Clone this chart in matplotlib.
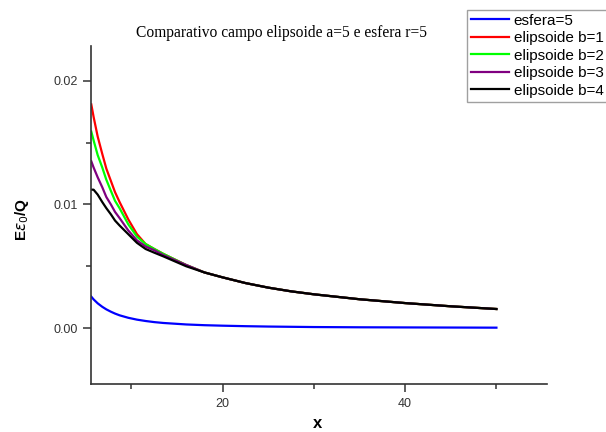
import matplotlib
matplotlib.use('Agg')
import matplotlib.pyplot as plt
from matplotlib.ticker import MultipleLocator

# valores
x = [5.6, 5.85, 6.3, 6.8, 7.25, 7.75, 8.2, 8.7, 9.65, 10.6, 11.55, 12.5, 13.5,
     16, 18, 20, 22.5, 25, 27.5, 30, 35, 40, 45, 50]

esfera = [0.00254, 0.00232, 0.00200, 0.00172, 0.00151, 0.00132, 0.00117, 0.00103,
          0.00083, 0.00068, 0.00057, 0.00048, 0.00041, 0.00029, 0.00023, 0.00019,
          0.00015, 0.00012, 0.00010, 0.00008, 0.00006, 0.00005, 0.00004, 0.00003]

tail = [0.0051, 0.0045, 0.0041, 0.00364, 0.00327, 0.00297, 0.00273, 0.00233,
        0.00202, 0.00176, 0.00154]

elip_b1 = [0.0181, 0.0171, 0.0155, 0.0141, 0.0129, 0.0119, 0.0110, 0.0102,
           0.0088, 0.0076, 0.0068, 0.0064, 0.0060] + tail
elip_b2 = [0.0159, 0.0152, 0.0140, 0.0130, 0.0120, 0.0111, 0.0103, 0.0097,
           0.0084, 0.0074, 0.0068, 0.0064, 0.0060] + tail
elip_b3 = [0.0135, 0.0130, 0.0122, 0.0114, 0.0106, 0.0100, 0.0094, 0.0089,
           0.0079, 0.0071, 0.0066, 0.0063, 0.0059] + tail
elip_b4 = [0.0112, 0.0112, 0.0108, 0.0102, 0.0097, 0.0092, 0.0087, 0.0083,
           0.0076, 0.0069, 0.0064, 0.0061, 0.0058, 0.0050] + tail[1:]

series = [
    ('esfera=5', esfera, '#0000ff'),
    ('elipsoide b=1', elip_b1, '#ff0000'),
    ('elipsoide b=2', elip_b2, '#00ff00'),
    ('elipsoide b=3', elip_b3, '#800080'),
    ('elipsoide b=4', elip_b4, '#000000'),
]

plt.rcParams['font.family'] = ['Liberation Sans', 'DejaVu Sans']

W, H = 606, 432
fig = plt.figure(figsize=(W / 100, H / 100), dpi=100)
ax = fig.add_axes([91.3 / W, 48 / H, (546.6 - 91.3) / W, (384 - 46) / H])

for label, y, c in series:
    ax.plot(x, y, color=c, lw=1.6, label=label)

ax.set_xlim(5.6, 55.5)
ax.set_ylim(-0.00453, 0.02283)

ax.xaxis.set_major_locator(MultipleLocator(20))
ax.xaxis.set_minor_locator(MultipleLocator(10))
ax.yaxis.set_major_locator(MultipleLocator(0.01))
ax.yaxis.set_minor_locator(MultipleLocator(0.005))
ax.yaxis.set_major_formatter(plt.FuncFormatter(lambda v, p: f'{v:.2f}'))

ax.spines['top'].set_visible(False)
ax.spines['right'].set_visible(False)
for s in ('left', 'bottom'):
    ax.spines[s].set_linewidth(1.2)
    ax.spines[s].set_color('#333333')
ax.tick_params(which='major', direction='out', length=6, width=1.1,
               color='#333333', labelsize=9, labelcolor='#333333', pad=4)
ax.tick_params(which='minor', direction='out', length=3.5, width=1.1,
               color='#333333')

fig.text(318 / W, 1 - 424 / H, 'x', fontsize=12, fontweight='bold',
         ha='center', va='center')
fig.text(22 / W, 1 - 219 / H, r'E$\varepsilon_0$/Q', fontsize=11,
         fontweight='bold', rotation=90, ha='center', va='center')

fig.text(282 / W, 1 - 33 / H, 'Comparativo campo elipsoide a=5 e esfera r=5',
         family='Liberation Serif', fontsize=11.2, ha='center', va='center')

leg = fig.legend(loc='upper left', bbox_to_anchor=(467 / W, 1 - 9.5 / H),
                 fontsize=11, frameon=True, fancybox=False, borderpad=0.28,
                 labelspacing=0.23, handlelength=2.5, handletextpad=0.28,
                 borderaxespad=0)
leg.get_frame().set_edgecolor('#888888')
leg.get_frame().set_linewidth(1.0)

fig.savefig('out.png', dpi=100)
